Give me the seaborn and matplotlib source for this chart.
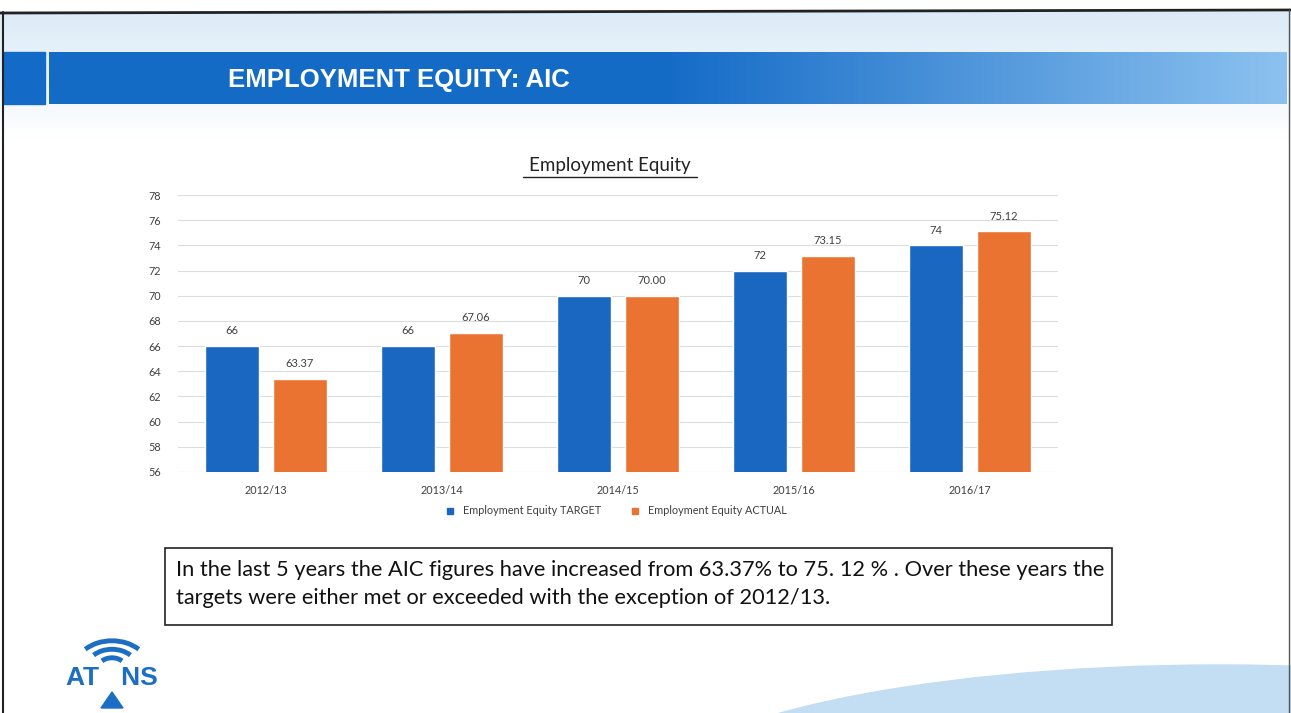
import numpy as np
import pandas as pd
import matplotlib
matplotlib.use("Agg")
import matplotlib.pyplot as plt
from matplotlib.patches import Rectangle, Ellipse, Arc
from matplotlib.lines import Line2D
import seaborn as sns

# ---- data ----
years = ["2012/13", "2013/14", "2014/15", "2015/16", "2016/17"]
target = [66, 66, 70, 72, 74]
actual = [63.37, 67.06, 70.00, 73.15, 75.12]
series_names = ["Employment Equity TARGET", "Employment Equity ACTUAL"]
yticks = list(range(56, 79, 2))

BLUE = "#1a67c2"
ORANGE = "#eb7332"

sns.set_theme(style="white")
plt.rcParams["font.family"] = ["Lato", "DejaVu Sans"]

W, H = 1291, 713
fig = plt.figure(figsize=(W / 100, H / 100), dpi=100)
fig.patch.set_facecolor("white")

# ---- slide background ----
bg = fig.add_axes([0, 0, 1, 1], zorder=0)
bg.set_xlim(0, W)
bg.set_ylim(H, 0)
bg.axis("off")
# top light wash
wash = np.linspace(0, 1, 100)[:, None]
top = np.array([0.86, 0.92, 0.97])
white = np.array([1.0, 1.0, 1.0])
img = top[None, None, :] * (1 - wash[:, :, None]) + white[None, None, :] * wash[:, :, None]
img = np.repeat(img, 2, axis=1)
bg.imshow(img, extent=[0, W, 140, 12], aspect="auto", zorder=0)
# title band gradient
g = np.linspace(0, 1, 300)[None, :]
c0 = np.array([0.08, 0.42, 0.78])
c1 = np.array([0.55, 0.76, 0.94])
t = np.clip((g - 0.5) / 0.5, 0, 1)
band = c0[None, None, :] * (1 - t[:, :, None]) + c1[None, None, :] * t[:, :, None]
band = np.repeat(band, 2, axis=0)
bg.imshow(band, extent=[49, 1287, 104, 52], aspect="auto", zorder=1)
bg.add_patch(Rectangle((4, 52), 41, 52, color=c0, zorder=1))
bg.text(228, 80, "EMPLOYMENT EQUITY: AIC", color="white", fontsize=18.5,
        fontweight="bold", family=["Liberation Sans", "DejaVu Sans"],
        va="center", ha="left", zorder=2)
# bottom-right decorative shape
bg.add_patch(Ellipse((1220, 800), 1150, 270, color="#c3ddf3", zorder=1))
bg.add_patch(Arc((1100, 800), 1500, 420, theta1=95, theta2=170, color="#d6e6f4", lw=1, zorder=1))
bg.add_patch(Arc((1250, 780), 1300, 380, theta1=90, theta2=175, color="#e1ecf6", lw=1, zorder=1))
# slide border
bg.plot([0, W], [13, 10], color="#222222", lw=2, zorder=3)
bg.plot([3, 3], [12, H], color="#222222", lw=1.5, zorder=3)
bg.plot([W - 2, W - 2], [10, H], color="#555555", lw=1, zorder=3)

# ---- text box ----
bg.add_patch(Rectangle((165, 548), 947, 77, facecolor="white", edgecolor="#222222", lw=1.2, zorder=4))
bg.text(176, 570, "In the last 5 years the AIC figures have increased from 63.37% to 75. 12 % . Over these years the",
        fontsize=15.7, color="#111111", va="center", ha="left", zorder=5)
bg.text(176, 598, "targets were either met or exceeded with the exception of 2012/13.",
        fontsize=15.7, color="#111111", va="center", ha="left", zorder=5)

# ---- logo ----
LOGO = "#1c6dc4"
for r in (12, 22, 32):
    bg.add_patch(Arc((112, 668), r * 2.3, r * 1.7, theta1=215, theta2=325, color=LOGO, lw=3.5, zorder=5))
bg.text(112, 678, "AT   NS", color=LOGO, fontsize=19, fontweight="bold",
        family=["Liberation Sans", "DejaVu Sans"], ha="center", va="center", zorder=5)
bg.add_patch(plt.Polygon([[101, 708], [123, 708], [112, 692]], closed=True, color=LOGO, zorder=5))

# ---- chart ----
df = pd.DataFrame({
    "year": years * 2,
    "value": target + actual,
    "series": [series_names[0]] * len(years) + [series_names[1]] * len(years),
})
ax = fig.add_axes([178 / W, 1 - 472 / H, 880 / W, (472 - 195) / H], zorder=2)
ax.set_facecolor("none")
sns.barplot(data=df, x="year", y="value", hue="series", order=years,
            hue_order=series_names, palette=[BLUE, ORANGE],
            width=0.77, gap=0.2, ax=ax, legend=False, saturation=1)
ax.set_ylim(56, 78)
ax.set_yticks(yticks)
ax.set_xlim(-0.5, len(years) - 0.5)
ax.yaxis.grid(True, color="#dcdcdc", lw=0.8)
ax.set_axisbelow(True)
for s in ax.spines.values():
    s.set_visible(False)
ax.axhline(56, color="#d0d0d0", lw=0.8, zorder=0)
ax.set_xlabel("")
ax.set_ylabel("")
ax.tick_params(axis="y", labelsize=7.8, colors="#404040", pad=12, length=0)
ax.tick_params(axis="x", labelsize=7.8, colors="#404040", pad=9, length=0)

for cont, fmt in zip(ax.containers, ["{:.0f}", "{:.2f}"]):
    ax.bar_label(cont, labels=[fmt.format(v) for v in cont.datavalues],
                 padding=7, fontsize=8, color="#404040")

fig.text(610 / W, 1 - 165 / H, "Employment Equity", ha="center", va="center",
         fontsize=13.5, color="#222222", zorder=5)
fig.add_artist(Line2D([523 / W, 697 / W], [1 - 177 / H, 1 - 177 / H], color="#222222", lw=1))

handles = [Line2D([], [], marker="s", ls="none", color=c, markersize=5) for c in (BLUE, ORANGE)]
fig.legend(handles, series_names, loc="center", bbox_to_anchor=(613 / W, 1 - 511 / H),
           ncol=2, frameon=False, fontsize=7.8, handletextpad=0.2, columnspacing=2.2,
           labelcolor="#404040")

fig.savefig("out.png", dpi=100)
